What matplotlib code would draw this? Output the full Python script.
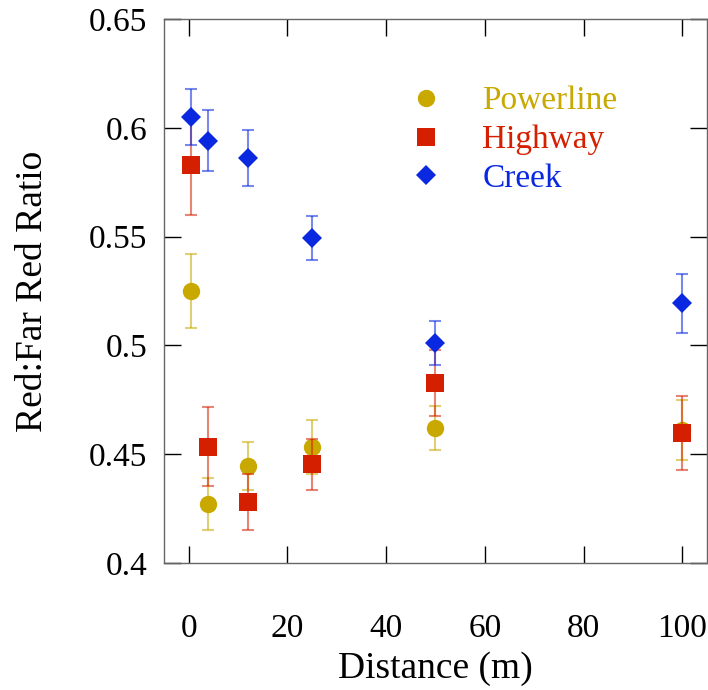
import matplotlib.pyplot as plt
from matplotlib.lines import Line2D

plt.rcParams["font.family"] = ["Liberation Serif", "DejaVu Serif"]

# distances (m)
distance = [0.5, 4, 12, 25, 50, 100]

powerline = [0.5248, 0.427, 0.4444, 0.4535, 0.4621, 0.4612]
powerline_err = [0.017, 0.012, 0.011, 0.0124, 0.010, 0.0138]

highway = [0.5829, 0.4535, 0.4281, 0.4453, 0.4827, 0.4598]
highway_err = [0.023, 0.018, 0.0128, 0.0117, 0.015, 0.017]

creek = [0.6049, 0.594, 0.5862, 0.5494, 0.5012, 0.5193]
creek_err = [0.013, 0.014, 0.013, 0.010, 0.010, 0.0135]

series = [
    ("Powerline", powerline, powerline_err, "#C9A800", "o", 12.5),
    ("Highway", highway, highway_err, "#D42000", "s", 12.5),
    ("Creek", creek, creek_err, "#0A28E0", "D", 10.5),
]

fig = plt.figure(figsize=(7.08, 6.90), dpi=100)
ax = fig.add_axes([0.2316, 0.184, 0.767, 0.7885])

handles = []
for name, vals, err, col, mk, ms in series:
    ax.errorbar(distance, vals, yerr=err, fmt="none", ecolor=col, alpha=0.55,
                elinewidth=1.5, capsize=4.5, capthick=1.5)
    ax.plot(distance, vals, linestyle="none", marker=mk, markersize=ms,
            color=col, markeredgewidth=0)
    handles.append(Line2D([], [], linestyle="none", marker=mk, markersize=ms,
                          color=col, markeredgewidth=0, label=name))

ax.set_xlim(-5, 105)
ax.set_ylim(0.4, 0.65)
ax.set_xticks([0, 20, 40, 60, 80, 100])
ax.set_yticks([0.4, 0.45, 0.5, 0.55, 0.6, 0.65])
ax.set_yticklabels(["0.4", "0.45", "0.5", "0.55", "0.6", "0.65"])

ax.tick_params(direction="in", length=12, width=1, labelsize=24,
               top=True, right=True)
ax.tick_params(axis="y", pad=12)
ax.tick_params(axis="x", pad=36)
for sp in ax.spines.values():
    sp.set_color("#666666")
    sp.set_linewidth(1)

ax.set_xlabel("Distance (m)", fontsize=27, labelpad=6)
ax.set_ylabel("Red:Far Red Ratio", fontsize=27, labelpad=28)

leg = ax.legend(handles=handles, loc="upper left", bbox_to_anchor=(0.451, 0.877),
                frameon=False, fontsize=24, handlelength=1.0, handletextpad=1.2,
                labelspacing=0.25, borderaxespad=0, borderpad=0)
for txt, s in zip(leg.get_texts(), series):
    txt.set_color(s[3])

fig.savefig("out.png", dpi=100)
